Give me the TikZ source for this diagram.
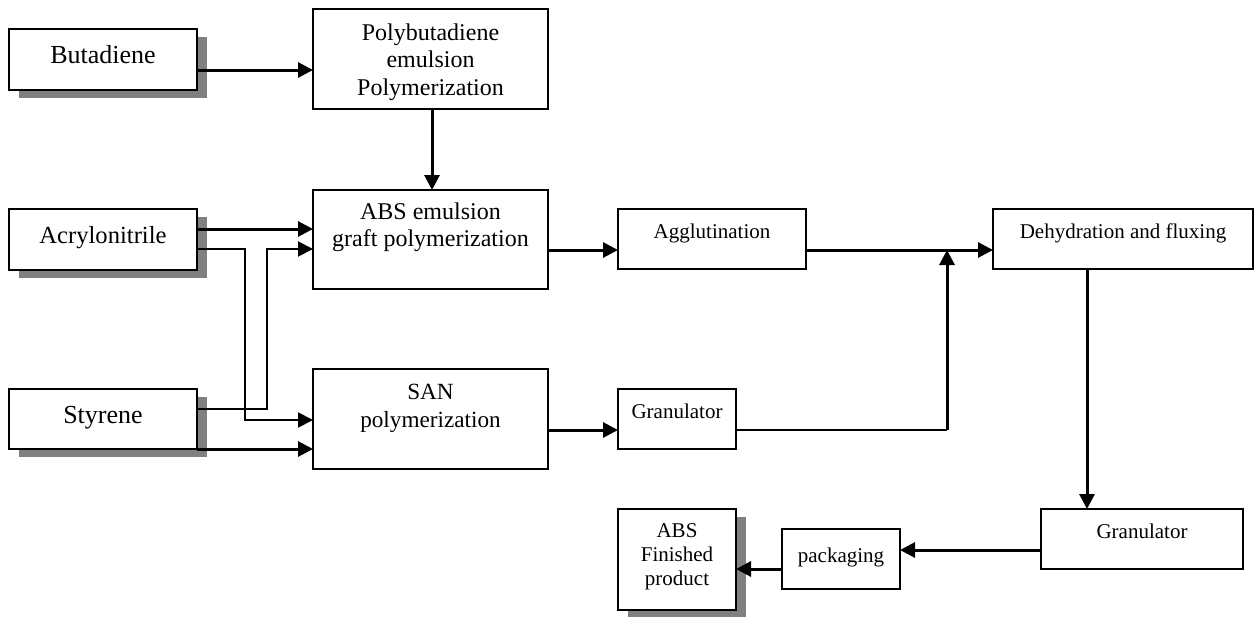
\documentclass[tikz,border=0pt]{standalone}
\usepackage{fontspec}
\setmainfont{Liberation Serif}
\usetikzlibrary{arrows.meta,backgrounds}

\definecolor{shadowgray}{HTML}{808080}

\tikzset{
  box/.style={draw=black, line width=1.8pt, fill=white, inner sep=0pt, outer sep=0pt,
              anchor=north west, rectangle},
  bigfont/.style={font=\fontsize{26}{30}\selectfont},
  acrfont/.style={font=\fontsize{24.6}{29}\selectfont},
  midfont/.style={font=\fontsize{24}{27.5}\selectfont},
  sanfont/.style={font=\fontsize{23.2}{28}\selectfont},
  smallfont/.style={font=\fontsize{21}{24}\selectfont},
  lbl/.style={anchor=base, inner sep=0pt},
  flow/.style={line width=3pt, -{Triangle[length=15pt,width=15pt]}},
  flowthin/.style={line width=2pt, -{Triangle[length=15pt,width=15pt]}},
  thinline/.style={line width=2pt},
}

% box helper: name, left, top, right, bottom
\newcommand{\procbox}[5]{%
  \node[box, minimum width={(#4-#2)*1pt}, minimum height={(#5-#3)*1pt}] (#1) at (#2,#3) {};}

\begin{document}
\begin{tikzpicture}[x=1pt, y=-1pt]
\useasboundingbox (0,0) rectangle (1255,616);

% process boxes
\procbox{but}{9}{29}{197}{90}
\procbox{poly}{313}{9}{548}{109}
\procbox{acr}{9}{209}{197}{270}
\procbox{abs}{313}{190}{548}{289}
\procbox{sty}{9}{389}{197}{449}
\procbox{san}{313}{369}{548}{469}
\procbox{agg}{618}{209}{806}{269}
\procbox{deh}{993}{209}{1253}{269}
\procbox{grA}{618}{389}{736}{449}
\procbox{grB}{1041}{509}{1243}{569}
\procbox{pack}{782}{529}{900}{589}
\procbox{fin}{618}{509}{736}{610}

% labels
\node[lbl, bigfont] (butT) at (but.north |- 0,63) {Butadiene};
\node[lbl, acrfont] (acrT) at (acr.north |- 0,243) {Acrylonitrile};
\node[lbl, bigfont] (styT) at (sty.north |- 0,423) {Styrene};
\node[lbl, midfont] (polyT) at (poly.north |- 0,40)
  {\begin{tabular}[t]{@{}c@{}}Polybutadiene\\emulsion\\Polymerization\end{tabular}};
\node[lbl, midfont] (absT) at (abs.north |- 0,219)
  {\begin{tabular}[t]{@{}c@{}}ABS emulsion\\graft polymerization\end{tabular}};
\node[lbl, sanfont] (sanT) at (san.north |- 0,399)
  {\begin{tabular}[t]{@{}c@{}}SAN\\polymerization\end{tabular}};
\node[lbl, smallfont] (aggT) at (agg.north |- 0,238) {Agglutination};
\node[lbl, smallfont] (dehT) at (deh.north |- 0,238) {Dehydration and fluxing};
\node[lbl, smallfont] (grAT) at (grA.north |- 0,418) {Granulator};
\node[lbl, smallfont] (grBT) at (grB.north |- 0,538) {Granulator};
\node[lbl, smallfont] (packT) at (pack.north |- 0,562) {packaging};
\node[lbl, smallfont] (finT) at (fin.north |- 0,537)
  {\begin{tabular}[t]{@{}c@{}}ABS\\Finished\\product\end{tabular}};

% bend points of the routed feeds
\coordinate (acrBend) at (245,420);
\coordinate (styBend) at (267,249);
\coordinate (mergeLow) at (947,430);
\coordinate (mergeTop) at (947,250);

% connectors
\draw[flow] (but.east |- 0,70) -- (poly.west |- 0,70);
\draw[flow] (poly.south -| 432,0) -- (abs.north -| 432,0);
\draw[flow] (acr.east |- 0,229) -- (abs.west |- 0,229);
\draw[flowthin] (acr.east |- 0,249) -| (acrBend) -- (san.west |- acrBend);
\draw[flowthin] (sty.east |- 0,409) -| (styBend) -- (abs.west |- styBend);
\draw[flow] (sty.south east) -- (san.west |- sty.south east);
\draw[flow] (abs.east |- 0,250) -- (agg.west |- 0,250);
\draw[flow] (san.east |- 0,430) -- (grA.west |- 0,430);
\draw[flow] (agg.east |- 0,250) -- (deh.west |- 0,250);
\draw[thinline] (grA.east |- mergeLow) -- (mergeLow);
\draw[flow] (mergeLow) -- (mergeTop);
\draw[flow] (deh.south -| 1087,0) -- (grB.north -| 1087,0);
\draw[flow] (grB.west |- 0,550) -- (pack.east |- 0,550);
\draw[flow] (pack.west |- 0,569) -- (fin.east |- 0,569);

% drop shadows behind the raw-material and product boxes
\begin{scope}[on background layer]
  \fill[white] (0,0) rectangle (1255,616);
  \foreach \n in {but,acr,sty,fin}{
    \fill[shadowgray] ([shift={(10,8)}]\n.north west) rectangle ([shift={(10,8)}]\n.south east);
  }
\end{scope}
\end{tikzpicture}
\end{document}
